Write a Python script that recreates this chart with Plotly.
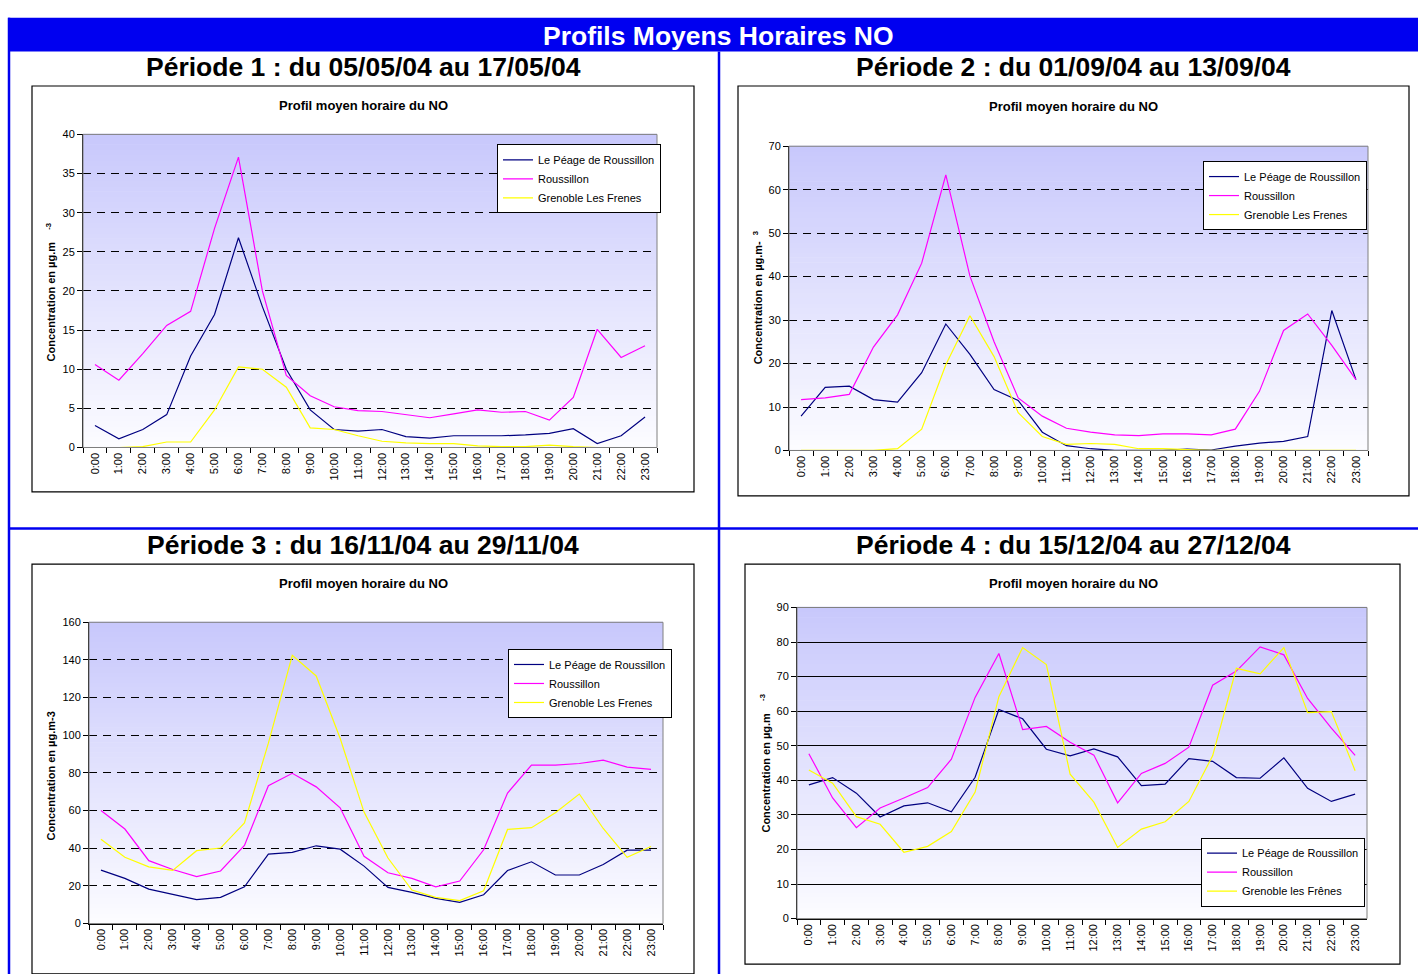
import plotly.graph_objects as go

W, H = 1418, 974

hours = [f"{h}:00" for h in range(24)]
series_names = ["Le Péage de Roussillon", "Roussillon", "Grenoble Les Frenes"]
series_names_p4 = ["Le Péage de Roussillon", "Roussillon", "Grenoble les Frênes"]
series_colors = ["#000080", "#FF00FF", "#FFFF00"]

# Période 1
p1_peage = [2.8, 1.1, 2.3, 4.2, 11.7, 17.0, 26.8, 18.0, 10.0, 4.8, 2.3, 2.1, 2.3, 1.4, 1.2, 1.5, 1.5, 1.5, 1.6, 1.8, 2.4, 0.5, 1.5, 3.9]
p1_rous = [10.6, 8.6, 12.0, 15.6, 17.4, 28.0, 37.1, 20.0, 9.2, 6.6, 5.2, 4.7, 4.6, 4.2, 3.8, 4.3, 4.8, 4.5, 4.6, 3.5, 6.4, 15.1, 11.5, 13.0]
p1_gren = [0.0, 0.0, 0.1, 0.7, 0.7, 4.8, 10.3, 10.0, 7.7, 2.5, 2.3, 1.5, 0.8, 0.6, 0.5, 0.5, 0.2, 0.1, 0.1, 0.3, 0.1, 0.0, 0.0, 0.0]

# Période 2
p2_peage = [7.9, 14.5, 14.8, 11.7, 11.1, 17.9, 29.1, 22.1, 14.0, 11.5, 4.2, 1.1, 0.4, 0.0, 0.0, 0.0, 0.3, 0.1, 1.0, 1.7, 2.1, 3.2, 32.2, 16.3]
p2_rous = [11.7, 12.1, 12.9, 23.8, 31.2, 43.1, 63.4, 40.1, 25.0, 12.1, 7.9, 5.1, 4.2, 3.6, 3.4, 3.8, 3.8, 3.6, 4.9, 13.6, 27.6, 31.4, 24.2, 16.3]
p2_gren = [0.0, 0.0, 0.0, 0.0, 0.4, 4.9, 19.7, 31.0, 21.6, 8.7, 3.2, 1.4, 1.6, 1.4, 0.4, 0.4, 0.2, 0.0, 0.0, 0.0, 0.0, 0.0, 0.0, 0.0]

# Période 3
p3_peage = [28.4, 24.0, 18.3, 15.3, 12.7, 13.9, 19.5, 36.9, 37.8, 41.3, 39.5, 30.5, 19.2, 16.6, 13.4, 11.3, 15.3, 28.2, 32.8, 25.8, 25.8, 31.4, 39.0, 39.0]
p3_rous = [60.1, 50.2, 33.4, 28.7, 24.9, 27.9, 41.5, 73.2, 79.8, 72.6, 61.5, 35.7, 27.0, 24.0, 19.5, 22.6, 39.2, 69.3, 84.1, 84.1, 85.0, 86.8, 83.1, 81.9]
p3_gren = [44.8, 35.2, 30.1, 28.2, 38.7, 40.1, 53.5, 95.8, 142.5, 131.5, 98.4, 59.2, 34.8, 17.8, 13.9, 12.2, 17.4, 50.0, 50.9, 58.9, 68.8, 50.5, 35.2, 40.9]

# Période 4
p4_peage = [38.7, 40.8, 36.3, 29.4, 32.6, 33.5, 30.9, 40.9, 60.5, 57.8, 49.0, 47.1, 49.1, 46.8, 38.5, 38.9, 46.3, 45.5, 40.8, 40.6, 46.5, 37.7, 33.9, 36.0]
p4_rous = [47.7, 34.9, 26.3, 32.0, 34.9, 37.9, 46.1, 64.0, 76.7, 54.7, 55.6, 51.0, 47.3, 33.5, 42.0, 44.9, 49.6, 67.5, 71.6, 78.6, 76.3, 63.7, 55.1, 47.2]
p4_gren = [43.0, 39.2, 29.5, 27.3, 19.2, 20.9, 25.2, 36.6, 64.2, 78.4, 73.5, 41.8, 33.7, 20.6, 25.9, 28.0, 33.9, 47.1, 72.4, 70.8, 78.4, 59.6, 59.9, 42.8]

main_title = "Profils Moyens Horaires NO"
period_titles = ["Période 1 : du 05/05/04 au 17/05/04", "Période 2 : du 01/09/04 au 13/09/04",
                 "Période 3 : du 16/11/04 au 29/11/04", "Période 4 : du 15/12/04 au 27/12/04"]
chart_title = "Profil moyen horaire du NO"
y_titles = ["Concentration en µg.m    <sup>-3</sup>", "Concentration en µg.m-  <sup>3</sup>",
            "Concentration en µg.m-3", "Concentration en µg.m    <sup>-3</sup>"]
y_max = [40, 70, 160, 90]
y_dtick = [5, 10, 20, 10]

FONT = "Liberation Sans, Arial, sans-serif"

def px(x):
    return x / W

def py(y):
    return 1 - y / H

# layout geometry (pixels)
panels = [
    dict(plot=(83, 130, 657, 447), box=(32, 81, 694, 492), sub=(363, 62), ttl=(363, 101),
         ytl=(51, 290), leg=(497, 140), grid="dash"),
    dict(plot=(789, 142, 1368, 450), box=(738, 81, 1409, 496), sub=(1073, 62), ttl=(1073, 102),
         ytl=(758, 295), leg=(1203, 157), grid="dash"),
    dict(plot=(89, 624, 663, 929), box=(32, 565, 694, 980), sub=(363, 546), ttl=(363, 585),
         ytl=(51, 780), leg=(508, 651), grid="dash"),
    dict(plot=(797, 609, 1367, 924), box=(745, 565, 1400, 970), sub=(1073, 546), ttl=(1073, 585),
         ytl=(765, 767), leg=(1201, 842), grid="solid"),
]

data_sets = [
    (p1_peage, p1_rous, p1_gren, series_names),
    (p2_peage, p2_rous, p2_gren, series_names),
    (p3_peage, p3_rous, p3_gren, series_names),
    (p4_peage, p4_rous, p4_gren, series_names_p4),
]

fig = go.Figure()
shapes = []
annotations = []
layout = {}

# blue frame
shapes.append(dict(type="rect", xref="paper", yref="paper", x0=px(8), x1=px(1418), y0=py(46), y1=py(12),
                   fillcolor="#0000F0", line=dict(width=0), layer="below"))
for (x0, y0, x1, y1) in [(9, 12, 9, 980), (719, 46, 719, 980), (8, 529, 1418, 529)]:
    shapes.append(dict(type="line", xref="paper", yref="paper", x0=px(x0), x1=px(x1), y0=py(y0), y1=py(y1),
                       line=dict(color="#0000F0", width=2.5), layer="below"))
annotations.append(dict(text=f"<b>{main_title}</b>", x=px(718), y=py(30), xref="paper", yref="paper",
                        showarrow=False, font=dict(family=FONT, size=26.5, color="white"),
                        xanchor="center", yanchor="middle"))

NB = 60
top_c = (200, 200, 252)
bot_c = (252, 252, 255)

for i, (pn, ds) in enumerate(zip(panels, data_sets)):
    k = "" if i == 0 else str(i + 1)
    xa, ya = "x" + k, "y" + k
    leg = "legend" if i == 0 else "legend" + str(i + 1)
    x0, y0, x1, y1 = pn["plot"]
    bx0, by0, bx1, by1 = pn["box"]
    # chart box
    shapes.append(dict(type="rect", xref="paper", yref="paper", x0=px(bx0), x1=px(bx1), y0=py(by1), y1=py(by0),
                       line=dict(color="#000000", width=1.2), fillcolor="white", layer="below"))
    # gradient bands
    for b in range(NB):
        t = (b + 0.5) / NB
        c = tuple(round(bot_c[j] + (top_c[j] - bot_c[j]) * t) for j in range(3))
        shapes.append(dict(type="rect", xref=xa + " domain", yref=ya + " domain", x0=0, x1=1,
                           y0=b / NB, y1=(b + 1) / NB + 0.002, fillcolor="rgb(%d,%d,%d)" % c,
                           line=dict(width=0), layer="below"))
    # plot area border (grey)
    shapes.append(dict(type="rect", xref=xa + " domain", yref=ya + " domain", x0=0, x1=1, y0=0, y1=1,
                       line=dict(color="#808080", width=1), layer="above"))

    for s, (vals, color) in enumerate(zip(ds[:3], series_colors)):
        fig.add_trace(go.Scatter(x=hours, y=vals, mode="lines", name=ds[3][s],
                                 line=dict(color=color, width=1.2), xaxis=xa, yaxis=ya,
                                 legend=leg, showlegend=True))

    layout["xaxis" + k] = dict(domain=[px(x0), px(x1)], anchor=ya, type="category",
                               range=[-0.5, 23.5], tickson="boundaries", ticks="outside", ticklen=5,
                               tickcolor="black", showline=True, linecolor="black", linewidth=1,
                               tickangle=-90, showgrid=False, zeroline=False,
                               tickfont=dict(family=FONT, size=11, color="black"))
    if pn["grid"] == "solid":
        gd = dict(showgrid=True, gridcolor="black", gridwidth=1, griddash="solid")
    else:
        gd = dict(showgrid=True, gridcolor="black", gridwidth=1, griddash="8px,6px")
    layout["yaxis" + k] = dict(domain=[py(y1), py(y0)], anchor=xa, range=[0, y_max[i]], dtick=y_dtick[i],
                               tick0=0, ticks="outside", ticklen=5, tickcolor="black", showline=True,
                               linecolor="black", linewidth=1, zeroline=False,
                               tickfont=dict(family=FONT, size=11, color="black"), **gd)
    layout[leg] = dict(x=px(pn["leg"][0]), y=py(pn["leg"][1]), xanchor="left", yanchor="top",
                       xref="paper", yref="paper", bgcolor="white", bordercolor="black", borderwidth=1,
                       font=dict(family=FONT, size=11, color="black"), itemwidth=30, tracegroupgap=0)

    annotations.append(dict(text=f"<b>{period_titles[i]}</b>", x=px(pn["sub"][0]), y=py(pn["sub"][1]),
                            xref="paper", yref="paper", showarrow=False,
                            font=dict(family=FONT, size=26.5, color="black"), xanchor="center", yanchor="middle"))
    annotations.append(dict(text=f"<b>{chart_title}</b>", x=px(pn["ttl"][0]), y=py(pn["ttl"][1]),
                            xref="paper", yref="paper", showarrow=False,
                            font=dict(family=FONT, size=13, color="black"), xanchor="center", yanchor="middle"))
    annotations.append(dict(text=f"<b>{y_titles[i]}</b>", x=px(pn["ytl"][0]), y=py(pn["ytl"][1]),
                            xref="paper", yref="paper", showarrow=False, textangle=-90,
                            font=dict(family=FONT, size=11, color="black"), xanchor="center", yanchor="middle"))

fig.update_layout(width=W, height=H, margin=dict(l=0, r=0, t=0, b=0), paper_bgcolor="white",
                  plot_bgcolor="white", shapes=shapes, annotations=annotations, **layout)

fig.write_html("out.html", config={"displayModeBar": False},
               post_script="document.body.style.margin='0px';document.body.style.overflow='hidden';")
